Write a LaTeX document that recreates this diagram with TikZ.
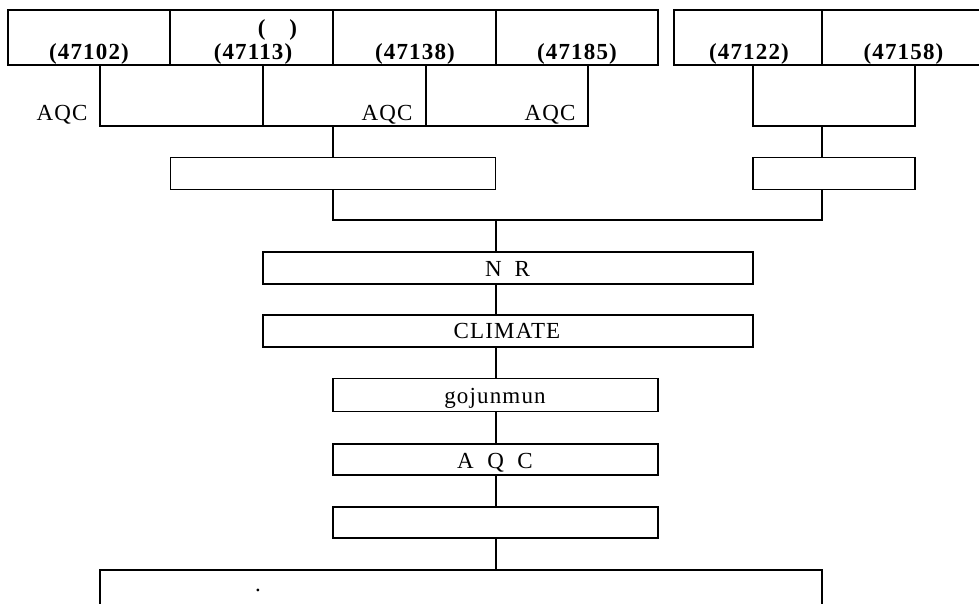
\documentclass[tikz,border=0pt]{standalone}
\usepackage{fontspec}
\setmainfont{Liberation Serif}
\begin{document}
\begin{tikzpicture}[x=1pt,y=-1pt,
  box/.style={draw, line width=1.2pt, inner sep=0pt, outer sep=0pt},
  con/.style={line width=1.2pt},
  num/.style={font=\fontsize{23}{25}\selectfont\bfseries\addfontfeature{LetterSpace=5}, anchor=base, inner sep=0pt},
  lbl/.style={font=\fontsize{23}{25}\selectfont\addfontfeature{LetterSpace=5}, anchor=base, inner sep=0pt},
  plain/.style={font=\fontsize{23}{25}\selectfont, anchor=base, inner sep=0pt}]
\useasboundingbox (0,0) rectangle (979,603);
% top row
\node[box, minimum width=162pt, minimum height=55pt] (b1) at (89,37.5) {};
\node[box, minimum width=163pt, minimum height=55pt] (b2) at (251.5,37.5) {};
\node[box, minimum width=163pt, minimum height=55pt] (b3) at (414.5,37.5) {};
\node[box, minimum width=162pt, minimum height=55pt] (b4) at (577,37.5) {};
\node[box, minimum width=148pt, minimum height=55pt] (b5) at (748,37.5) {};
\node[box, minimum width=163pt, minimum height=55pt] (b6) at (903.5,37.5) {};
\node[num] (t1) at (89,59.5) {(47102)};
\node[num] (t2) at (253,59.5) {(47113)};
\node[num] (t2p) at (277.5,35) {(\hspace{24pt})};
\node[num] (t3) at (415,59.5) {(47138)};
\node[num] (t4) at (577,59.5) {(47185)};
\node[num] (t5) at (749,59.5) {(47122)};
\node[num] (t6) at (903.5,59.5) {(47158)};
% AQC labels
\node[lbl] (a1) at (62,120) {AQC};
\node[lbl] (a2) at (387,120) {AQC};
\node[lbl] (a3) at (550,120) {AQC};
% second level boxes
\node[box, minimum width=325pt, minimum height=31.5pt] (lbox) at (333.2,173.5) {};
\node[box, minimum width=162pt, minimum height=31.5pt] (rbox) at (834,173.5) {};
% chain
\node[box, minimum width=490pt, minimum height=32pt] (nr) at (508,268) {};
\node[box, minimum width=490pt, minimum height=32pt] (cl) at (508,331) {};
\node[box, minimum width=325pt, minimum height=33pt] (gj) at (495.5,395) {};
\node[box, minimum width=325pt, minimum height=31pt] (aq) at (495.5,459.5) {};
\node[box, minimum width=325pt, minimum height=31pt] (emp) at (495.5,522.5) {};
\node[box, minimum width=722pt, minimum height=70pt] (bot) at (461,605) {};
\node[plain] (nrt) at (507.5,276) {N\hspace{13pt}R};
\node[lbl] (clt) at (507,338.5) {CLIMATE};
\node[lbl] (gjt) at (495,403) {gojunmun};
\node[plain] (aqt) at (495,468.5) {A\hspace{13.5pt}Q\hspace{13.5pt}C};
\node[plain] (dot) at (258,591) {.};
% connectors
\coordinate (p1) at ([xshift=11pt]b1.south);
\coordinate (p2) at ([xshift=11.5pt]b2.south);
\coordinate (p3) at ([xshift=11.5pt]b3.south);
\coordinate (p4) at ([xshift=11pt]b4.south);
\coordinate (p5) at ([xshift=5pt]b5.south);
\coordinate (p6) at ([xshift=11.5pt]b6.south);
\coordinate (jL) at (333,126);
\coordinate (jR) at (822,126);
\coordinate (jM) at (496,220);
\draw[con] (p1) |- (jL) -| (p4);
\draw[con] (p2) -- (p2 |- jL);
\draw[con] (p3) -- (p3 |- jL);
\draw[con] (jL) -- (jL |- lbox.north);
\draw[con] (p5) |- (jR) -| (p6);
\draw[con] (jR) -- (jR |- rbox.north);
\draw[con] (jL |- lbox.south) |- (jM) -| (jR |- rbox.south);
\draw[con] (jM) -- (jM |- nr.north);
\draw[con] (jM |- nr.south) -- (jM |- cl.north);
\draw[con] (jM |- cl.south) -- (jM |- gj.north);
\draw[con] (jM |- gj.south) -- (jM |- aq.north);
\draw[con] (jM |- aq.south) -- (jM |- emp.north);
\draw[con] (jM |- emp.south) -- (jM |- bot.north);
\end{tikzpicture}
\end{document}
